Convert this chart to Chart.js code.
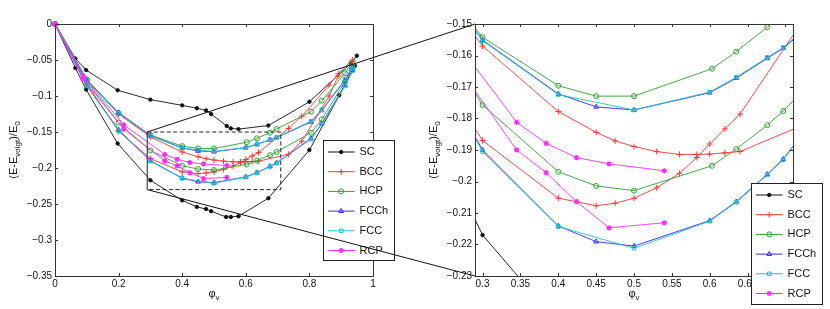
<!DOCTYPE html>
<html>
<head>
<meta charset="utf-8">
<script src="https://cdn.jsdelivr.net/npm/chart.js@4.4.1/dist/chart.umd.min.js"></script>
<style>
  body { margin: 0; background: #fff; }
  #wrap { position: relative; width: 830px; height: 309px; }
  #left { position: absolute; left: 0; top: 0; }
  #right { position: absolute; left: 415px; top: 0; }
  #over { position: absolute; left: 0; top: 0; pointer-events: none; }
</style>
</head>
<body>
<div id="wrap">
  <canvas id="left" width="415" height="309"></canvas>
  <canvas id="right" width="415" height="309"></canvas>
  <canvas id="over" width="830" height="309"></canvas>
</div>
<script>
// zoomed window (right panel range and dashed box on the left)
const zoomX = [0.29, 0.71];
const zoomY = [-0.23, -0.15];

const leftXTicks = [0, 0.2, 0.4, 0.6, 0.8, 1];
const leftYTicks = [0, -0.05, -0.1, -0.15, -0.2, -0.25, -0.3, -0.35];
const rightXTicks = [0.3, 0.35, 0.4, 0.45, 0.5, 0.55, 0.6, 0.65, 0.7];
const rightYTicks = [-0.15, -0.16, -0.17, -0.18, -0.19, -0.2, -0.21, -0.22, -0.23];

const names = ['SC', 'BCC', 'HCP', 'FCCh', 'FCC', 'RCP'];

// each structure has an upper and a lower branch
const scUpX = [0, 0.064, 0.098, 0.197, 0.3, 0.4, 0.446, 0.475, 0.491, 0.54, 0.553, 0.577, 0.671, 0.8, 0.93, 0.949];
const scUpY = [0, -0.048, -0.064, -0.092, -0.105, -0.113, -0.117, -0.12, -0.125, -0.1417, -0.145, -0.146, -0.141, -0.108, -0.055, -0.044];
const scLoX = [0, 0.064, 0.098, 0.197, 0.3, 0.4, 0.446, 0.475, 0.491, 0.538, 0.553, 0.577, 0.671, 0.8, 0.894, 0.943];
const scLoY = [0, -0.061, -0.091, -0.166, -0.217, -0.245, -0.254, -0.257, -0.26, -0.268, -0.268, -0.267, -0.242, -0.175, -0.099, -0.058];

const bccUpX = [0, 0.1, 0.2, 0.3, 0.4, 0.45, 0.475, 0.5, 0.53, 0.56, 0.583, 0.6, 0.62, 0.64, 0.734, 0.776, 0.862, 0.891, 0.935];
const bccUpY = [0, -0.078, -0.125, -0.157, -0.1778, -0.1844, -0.1871, -0.1889, -0.1905, -0.1914, -0.1914, -0.1913, -0.1909, -0.1905, -0.181, -0.163, -0.1, -0.072, -0.052];
const bccLoX = [0, 0.1, 0.2, 0.3, 0.4, 0.45, 0.475, 0.5, 0.53, 0.56, 0.583, 0.6, 0.62, 0.64, 0.734, 0.776, 0.862, 0.891, 0.935];
const bccLoY = [0, -0.083, -0.149, -0.187, -0.2053, -0.2077, -0.2069, -0.2053, -0.202, -0.1974, -0.1924, -0.1881, -0.1833, -0.1786, -0.145, -0.128, -0.085, -0.069, -0.05];

const hcpX = [0, 0.1, 0.2, 0.3, 0.4, 0.45, 0.5, 0.603, 0.635, 0.676, 0.697, 0.805, 0.839, 0.912, 0.933];
const hcpUpY = [0, -0.077, -0.124, -0.1542, -0.1696, -0.1729, -0.1729, -0.1642, -0.1588, -0.151, -0.1458, -0.1218, -0.1065, -0.0685, -0.0546];
const hcpLoY = [0, -0.08, -0.137, -0.1757, -0.1969, -0.2014, -0.2029, -0.195, -0.1897, -0.1821, -0.1776, -0.151, -0.1324, -0.08, -0.063];

const fcchX = [0, 0.1, 0.2, 0.3, 0.4, 0.45, 0.5, 0.6, 0.635, 0.676, 0.697, 0.805, 0.839, 0.912, 0.936];
const fcchUpY = [0, -0.078, -0.123, -0.1551, -0.1722, -0.1763, -0.1773, -0.1718, -0.1672, -0.1609, -0.1577, -0.136, -0.12, -0.078, -0.06];
const fcchLoY = [0, -0.086, -0.147, -0.19, -0.2141, -0.2191, -0.2205, -0.2124, -0.2064, -0.1977, -0.1929, -0.159, -0.138, -0.085, -0.064];

const fccX = [0, 0.1, 0.2, 0.3, 0.4, 0.5, 0.6, 0.635, 0.676, 0.697, 0.805, 0.839, 0.912, 0.936];
const fccUpY = [0, -0.078, -0.124, -0.1553, -0.1724, -0.1773, -0.1716, -0.1669, -0.1606, -0.1575, -0.135, -0.119, -0.077, -0.059];
const fccLoY = [0, -0.086, -0.148, -0.1905, -0.2143, -0.2212, -0.2126, -0.2066, -0.1979, -0.1931, -0.16, -0.139, -0.086, -0.065];

const rcpX = [0, 0.088, 0.216, 0.345, 0.384, 0.424, 0.467, 0.54];
const rcpUpY = [0, -0.072, -0.14, -0.1812, -0.1879, -0.1924, -0.1944, -0.1966];
const rcpLoY = [0, -0.076, -0.146, -0.19, -0.1972, -0.2064, -0.2147, -0.2131];

const branches = [
  ['SC', scUpX, scUpY], ['SC', scLoX, scLoY],
  ['BCC', bccUpX, bccUpY], ['BCC', bccLoX, bccLoY],
  ['HCP', hcpX, hcpUpY], ['HCP', hcpX, hcpLoY],
  ['FCCh', fcchX, fcchUpY], ['FCCh', fcchX, fcchLoY],
  ['FCC', fccX, fccUpY], ['FCC', fccX, fccLoY],
  ['RCP', rcpX, rcpUpY], ['RCP', rcpX, rcpLoY]
];

const look = {
  SC:   { color: '#111111', point: 'circle', r: 1.7, filled: true },
  BCC:  { color: '#ff3333', point: 'cross', r: 3 },
  HCP:  { color: '#2f9f2f', point: 'circle', r: 2.5 },
  FCCh: { color: '#2b2bff', point: 'triangle', r: 2.7 },
  FCC:  { color: '#22bfc8', point: 'rect', r: 2.5 },
  RCP:  { color: '#ff2bff', point: 'star', r: 2.6 }
};

Chart.defaults.font.family = '"Liberation Sans", Arial, Helvetica, sans-serif';
Chart.defaults.font.size = 10;
Chart.defaults.color = '#111';

function fmt(v) {
  return parseFloat(v.toFixed(3)).toString().replace('-', '\u2212');
}

function makeDatasets(clip) {
  const n = names.length;
  return branches.map(([name, xs, ys]) => {
    const st = look[name];
    return {
      label: name,
      data: xs.map((x, i) => ({ x: x, y: ys[i] })),
      showLine: true,
      borderColor: st.color,
      backgroundColor: st.filled ? st.color : 'rgba(0,0,0,0)',
      borderWidth: 0.9,
      pointStyle: st.point,
      pointRadius: st.r,
      pointBorderWidth: st.point === 'star' ? 1.4 : 1,
      pointBorderColor: st.color,
      pointBackgroundColor: st.filled ? st.color : 'rgba(0,0,0,0)',
      tension: 0,
      clip: clip,
      order: n - names.indexOf(name)
    };
  });
}

function drawMarker(ctx, st, x, y) {
  ctx.save();
  ctx.strokeStyle = st.color;
  ctx.fillStyle = st.filled ? st.color : 'rgba(0,0,0,0)';
  ctx.lineWidth = st.point === 'star' ? 1.4 : 1;
  Chart.helpers.drawPoint(ctx, { pointStyle: st.point, radius: st.r, borderWidth: 1, rotation: 0 }, x, y);
  ctx.restore();
}

function partsWidth(ctx, parts, size, subSize) {
  let w = 0;
  parts.forEach(p => {
    ctx.font = (p.sub ? subSize : size) + 'px "Liberation Sans", Arial, sans-serif';
    w += ctx.measureText(p.t).width;
  });
  return w;
}

function drawParts(ctx, parts, x, y, size, subSize, subShift) {
  let cx = x;
  parts.forEach(p => {
    ctx.font = (p.sub ? subSize : size) + 'px "Liberation Sans", Arial, sans-serif';
    ctx.fillText(p.t, cx, y + (p.sub ? subShift : 0));
    cx += ctx.measureText(p.t).width;
  });
}

const yTitle = [{ t: '(E-E' }, { t: 'voigt', sub: true }, { t: ')/E' }, { t: '0', sub: true }];
const xTitle = [{ t: '\u03c6' }, { t: 'v', sub: true }];

const framePlugin = {
  id: 'frame',
  afterDraw(chart, args, o) {
    const ctx = chart.ctx;
    const a = chart.chartArea;
    const xs = chart.scales.x, ys = chart.scales.y;
    ctx.save();

    // dashed zoom box on the main panel
    if (o.box) {
      const l = xs.getPixelForValue(zoomX[0]), r = xs.getPixelForValue(zoomX[1]);
      const t = ys.getPixelForValue(zoomY[1]), b = ys.getPixelForValue(zoomY[0]);
      ctx.strokeStyle = '#222';
      ctx.lineWidth = 1;
      ctx.setLineDash([4, 2.5]);
      ctx.beginPath();
      ctx.moveTo(l, t); ctx.lineTo(r, t); ctx.lineTo(r, b); ctx.lineTo(l, b);
      ctx.stroke();
      ctx.setLineDash([]);
      ctx.beginPath();
      ctx.moveTo(l, t); ctx.lineTo(l, b);
      ctx.stroke();
    }

    // axes box and inward ticks on all sides
    ctx.strokeStyle = '#333';
    ctx.lineWidth = 1;
    ctx.beginPath();
    xs.ticks.forEach(tk => {
      const px = Math.round(xs.getPixelForValue(tk.value)) + 0.5;
      ctx.moveTo(px, a.bottom); ctx.lineTo(px, a.bottom - 3);
      ctx.moveTo(px, a.top); ctx.lineTo(px, a.top + 3);
    });
    ys.ticks.forEach(tk => {
      const py = Math.round(ys.getPixelForValue(tk.value)) + 0.5;
      ctx.moveTo(a.left, py); ctx.lineTo(a.left + 3, py);
      ctx.moveTo(a.right, py); ctx.lineTo(a.right - 3, py);
    });
    ctx.stroke();
    ctx.strokeRect(a.left + 0.5, a.top + 0.5, a.right - a.left, a.bottom - a.top);

    // axis titles
    ctx.fillStyle = '#111';
    ctx.textBaseline = 'alphabetic';
    const wy = partsWidth(ctx, yTitle, 11, 8);
    ctx.save();
    ctx.translate(o.yTitleX, (a.top + a.bottom) / 2);
    ctx.rotate(-Math.PI / 2);
    drawParts(ctx, yTitle, -wy / 2, 4, 11, 8, 3);
    ctx.restore();
    const wx = partsWidth(ctx, xTitle, 11, 8);
    drawParts(ctx, xTitle, (a.left + a.right) / 2 - wx / 2, 297, 11, 8, 3);

    // legend
    const L = o.legend;
    ctx.fillStyle = '#fff';
    ctx.fillRect(L.x, L.y, L.w, L.h);
    ctx.strokeStyle = '#222';
    ctx.strokeRect(L.x + 0.5, L.y + 0.5, L.w, L.h);
    ctx.font = '11px "Liberation Sans", Arial, sans-serif';
    ctx.textBaseline = 'middle';
    names.forEach((nm, i) => {
      const st = look[nm];
      const yy = L.y + 12 + i * 19.7;
      ctx.strokeStyle = st.color;
      ctx.lineWidth = 1;
      ctx.beginPath();
      ctx.moveTo(L.x + 5, yy); ctx.lineTo(L.x + 31.5, yy);
      ctx.stroke();
      drawMarker(ctx, st, L.x + 18.2, yy);
      ctx.fillStyle = '#111';
      ctx.fillText(nm, L.x + 36.5, yy);
    });
    ctx.restore();
  }
};

function makeChart(id, xr, yr, xt, yt, pad, yw, clip, plug) {
  return new Chart(document.getElementById(id), {
    type: 'scatter',
    data: { datasets: makeDatasets(clip) },
    options: {
      responsive: false,
      animation: false,
      layout: { padding: pad },
      plugins: { legend: { display: false }, tooltip: { enabled: false }, frame: plug },
      scales: {
        x: {
          type: 'linear', min: xr[0], max: xr[1],
          grid: { display: false, drawTicks: false },
          border: { display: false },
          afterBuildTicks: s => { s.ticks = xt.map(v => ({ value: v })); },
          afterFit: s => { s.height = 33; },
          ticks: { padding: 2, maxRotation: 0, autoSkip: false, callback: v => fmt(v) }
        },
        y: {
          type: 'linear', min: yr[0], max: yr[1],
          grid: { display: false, drawTicks: false },
          border: { display: false },
          afterBuildTicks: s => { s.ticks = yt.map(v => ({ value: v })); },
          afterFit: s => { s.width = yw; },
          ticks: { padding: 3, autoSkip: false, callback: v => fmt(v) }
        }
      }
    },
    plugins: [framePlugin]
  });
}

const leftChart = makeChart('left', [0, 1], [-0.35, 0], leftXTicks, leftYTicks,
  { left: 0, right: 42, top: 24, bottom: 0 }, 55, false,
  { box: true, yTitleX: 13, legend: { x: 323, y: 140, w: 71, h: 120 } });

const rightChart = makeChart('right', zoomX, zoomY, rightXTicks, rightYTicks,
  { left: 0, right: 37, top: 24, bottom: 0 }, 60, 0,
  { box: false, yTitleX: 18, legend: { x: 336, y: 183, w: 71, h: 121 } });

// lines joining the dashed box to the zoomed panel
const ov = document.getElementById('over').getContext('2d');
const lx = leftChart.scales.x, ly = leftChart.scales.y;
const ra = rightChart.chartArea;
const off = 415;
ov.strokeStyle = '#111';
ov.lineWidth = 1;
ov.beginPath();
ov.moveTo(lx.getPixelForValue(zoomX[0]), ly.getPixelForValue(zoomY[1]));
ov.lineTo(off + ra.left, ra.top);
ov.moveTo(lx.getPixelForValue(zoomX[0]), ly.getPixelForValue(zoomY[0]));
ov.lineTo(off + ra.left, ra.bottom);
ov.stroke();
</script>
</body>
</html>
